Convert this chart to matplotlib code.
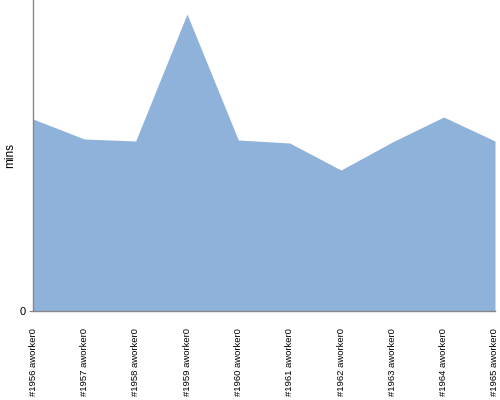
import matplotlib
matplotlib.use("Agg")
import matplotlib.pyplot as plt

plt.rcParams['font.family'] = ['Liberation Sans', 'DejaVu Sans']

categories = ["#1956 aworker0", "#1957 aworker0", "#1958 aworker0", "#1959 aworker0",
              "#1960 aworker0", "#1961 aworker0", "#1962 aworker0", "#1963 aworker0",
              "#1964 aworker0", "#1965 aworker0"]
mins = [192, 172, 170, 297, 171, 168, 141, 169, 194, 170]

fig = plt.figure(figsize=(5, 4), dpi=100)
ax = fig.add_axes([0.066, 0.2225, 0.924, 0.7775])
x = list(range(len(categories)))
ax.fill_between(x, mins, 0, color="#8fb2db", linewidth=0)
ax.set_xlim(0, len(categories) - 1)
ax.set_ylim(0, 311)
ax.set_xticks(x)
ax.set_xticklabels(categories, rotation=90, fontsize=6.8)
ax.set_yticks([0])
ax.set_yticklabels(["0"], fontsize=8)
ax.tick_params(axis='x', length=0, pad=12)
ax.tick_params(axis='y', length=3, color="#888888", pad=2)
for s in ["top", "right"]:
    ax.spines[s].set_visible(False)
for s in ["left", "bottom"]:
    ax.spines[s].set_color("#888888")
    ax.spines[s].set_linewidth(1)
ax.set_ylabel("mins", fontsize=8.5)
ax.yaxis.set_label_coords(-0.036, 0.5)
fig.savefig("out.png", dpi=100)
